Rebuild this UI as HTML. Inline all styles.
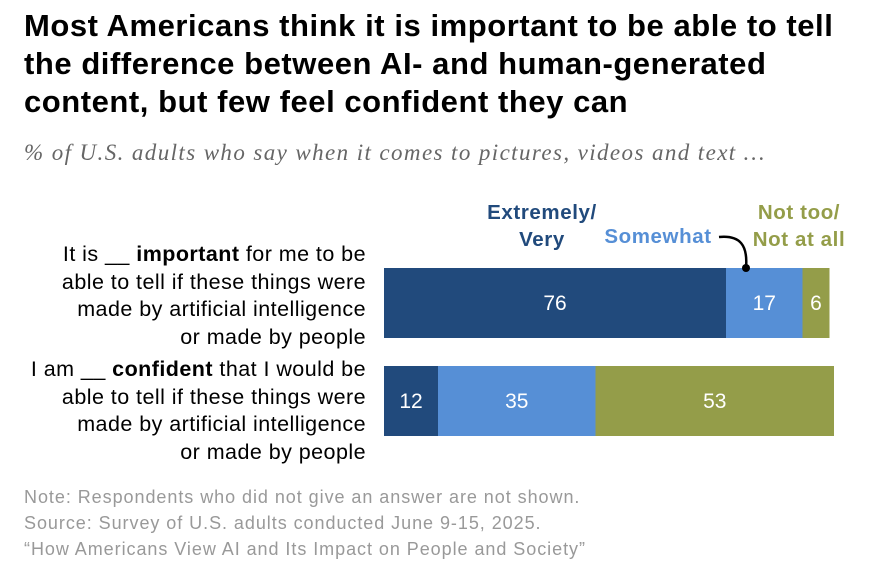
<!DOCTYPE html>
<html><head><meta charset="utf-8"><style>
body{margin:0;width:884px;height:574px;background:#fff;font-family:"Liberation Sans",sans-serif;position:relative;overflow:hidden}
#title{position:absolute;left:24px;top:7px;width:870px;font-weight:bold;font-size:31px;line-height:38px;color:#000;margin:0;white-space:nowrap;letter-spacing:0.55px}
#sub{position:absolute;left:24px;top:140px;font-family:"Liberation Serif",serif;font-style:italic;font-size:23px;letter-spacing:1.4px;color:#666;white-space:nowrap}
.lbl{position:absolute;right:518px;text-align:right;font-size:21.5px;line-height:27.5px;color:#000;white-space:nowrap;letter-spacing:0.45px}
.note{position:absolute;left:24px;font-size:18px;color:#999;white-space:nowrap;letter-spacing:0.95px}
</style></head><body>
<h1 id="title">Most Americans think it is important to be able to tell<br>the difference between AI- and human-generated<br>content, but few feel confident they can</h1>
<div id="sub">% of U.S. adults who say when it comes to pictures, videos and text …</div>
<div class="lbl" style="top:241px">It is __ <b>important</b> for me to be<br>able to tell if these things were<br>made by artificial intelligence<br>or made by people</div>
<div class="lbl" style="top:356px">I am __ <b>confident</b> that I would be<br>able to tell if these things were<br>made by artificial intelligence<br>or made by people</div>
<svg id="chart" width="884" height="574" style="position:absolute;left:0;top:0">
<text x="542" y="219" text-anchor="middle" font-weight="bold" font-size="20.5" letter-spacing="0.6" fill="#214a7c" font-family="Liberation Sans"><tspan x="542">Extremely/</tspan><tspan x="542" dy="27">Very</tspan></text>
<text x="658" y="243" text-anchor="middle" font-weight="bold" font-size="20.5" letter-spacing="0.6" fill="#568fd6" font-family="Liberation Sans">Somewhat</text>
<text x="799" y="219" text-anchor="middle" font-weight="bold" font-size="20.5" letter-spacing="0.6" fill="#949d49" font-family="Liberation Sans"><tspan x="799">Not too/</tspan><tspan x="799" dy="27">Not at all</tspan></text>
<path d="M719 237 C740 235 748 245 746 268" fill="none" stroke="#000" stroke-width="2.5"/>
<g id="bars"></g>
<circle cx="746" cy="268" r="4" fill="#000"/>
</svg>
<div class="note" style="top:487px">Note: Respondents who did not give an answer are not shown.</div>
<div class="note" style="top:513px">Source: Survey of U.S. adults conducted June 9-15, 2025.</div>
<div class="note" style="top:539px">“How Americans View AI and Its Impact on People and Society”</div>
<script>
const categories=["important","confident"];
const extremelyVery=[76,12];
const somewhat=[17,35];
const notToo=[6,53];
const seriesNames=["extremely-very","somewhat","not-too"];
const colors=["#214a7c","#568fd6","#949d49"];
const x0=384,scale=4.5,rowTop=[268,366],barH=70;
const xs=v=>v*scale;
const g=document.getElementById('bars');
const ns="http://www.w3.org/2000/svg";
categories.forEach((c,i)=>{
  let x=x0;
  [extremelyVery[i],somewhat[i],notToo[i]].forEach((v,j)=>{
    const r=document.createElementNS(ns,'rect');
    r.setAttribute('x',x);r.setAttribute('y',rowTop[i]);
    r.setAttribute('width',xs(v));r.setAttribute('height',barH);
    r.setAttribute('fill',colors[j]);
    
    
    g.appendChild(r);
    const t=document.createElementNS(ns,'text');
    t.setAttribute('x',x+xs(v)/2);t.setAttribute('y',rowTop[i]+barH/2+7);
    t.setAttribute('text-anchor','middle');t.setAttribute('fill','#fff');
    t.setAttribute('font-size','21');t.setAttribute('font-family','Liberation Sans');
    t.textContent=v;
    
    
    g.appendChild(t);
    x+=xs(v);
  });
});
</script>
</body></html>
